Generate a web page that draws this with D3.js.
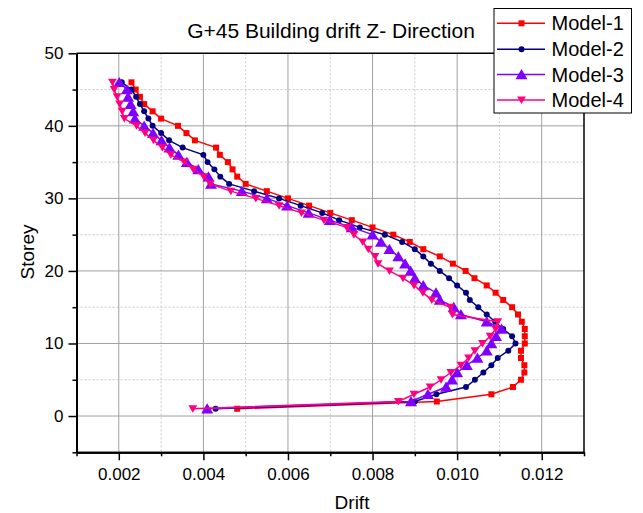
<!DOCTYPE html>
<html><head><meta charset="utf-8">
<script src="https://cdn.jsdelivr.net/npm/d3@7/dist/d3.min.js"></script>
<style>
html,body{margin:0;padding:0;background:#fff;}
svg{display:block;font-family:"Liberation Sans",Arial,sans-serif;}
</style></head>
<body>
<svg id="c" width="643" height="513"></svg>
<script>
const storeys = [1,2,3,4,5,6,7,8,9,10,11,12,13,14,15,16,17,18,19,20,21,22,23,24,25,26,27,28,29,30,31,32,33,34,35,36,37,38,39,40,41,42,43,44,45,46];
const model1 = [0.00480,0.00952,0.01081,0.01132,0.01151,0.01159,0.01159,0.01151,0.01151,0.01160,
0.01160,0.01160,0.01153,0.01144,0.01130,0.01109,0.01091,0.01070,0.01041,0.01020,
0.00990,0.00959,0.00920,0.00888,0.00849,0.00800,0.00751,0.00700,0.00650,0.00600,
0.00550,0.00500,0.00480,0.00469,0.00458,0.00439,0.00430,0.00380,0.00360,0.00340,
0.00300,0.00280,0.00260,0.00250,0.00240,0.00230];
const model2 = [0.00429,0.00900,0.00951,0.01021,0.01042,0.01062,0.01081,0.01096,0.01121,0.01138,
0.01130,0.01109,0.01090,0.01070,0.01050,0.01030,0.01021,0.01000,0.00981,0.00959,
0.00938,0.00920,0.00900,0.00870,0.00829,0.00770,0.00721,0.00681,0.00630,0.00579,
0.00520,0.00461,0.00440,0.00426,0.00410,0.00400,0.00351,0.00319,0.00300,0.00280,
0.00270,0.00260,0.00250,0.00241,0.00230,0.00207];
const model3 = [0.00409,0.00891,0.00931,0.00974,0.00988,0.01000,0.01023,0.01048,0.01070,0.01081,
0.01092,0.01105,0.01070,0.01009,0.00992,0.00959,0.00950,0.00920,0.00900,0.00890,
0.00877,0.00861,0.00840,0.00820,0.00800,0.00751,0.00699,0.00649,0.00598,0.00550,
0.00491,0.00418,0.00412,0.00388,0.00361,0.00341,0.00320,0.00301,0.00281,0.00260,
0.00238,0.00234,0.00228,0.00222,0.00219,0.00201];
const model4 = [0.00375,0.00861,0.00898,0.00936,0.00962,0.00985,0.01009,0.01027,0.01042,0.01060,
0.01078,0.01091,0.01096,0.00989,0.00984,0.00940,0.00919,0.00898,0.00872,0.00840,
0.00813,0.00806,0.00790,0.00777,0.00756,0.00739,0.00685,0.00632,0.00579,0.00524,
0.00465,0.00416,0.00401,0.00376,0.00355,0.00323,0.00303,0.00282,0.00262,0.00242,
0.00213,0.00208,0.00202,0.00196,0.00189,0.00185];
const seriesNames = ["Model-1","Model-2","Model-3","Model-4"];
const xMajorTicks = [0.002,0.004,0.006,0.008,0.010,0.012];
const xMinorTicks = [0.001,0.003,0.005,0.007,0.009,0.011,0.013];
const yMajorTicks = [0,10,20,30,40,50];
const yMinorTicks = [-5,5,15,25,35,45];

const W = 643, H = 513;
const L = 76.5, R = 584, T = 53.3, B = 452.3;
const svg = d3.select("#c");
svg.append("rect").attr("width",W).attr("height",H).attr("fill","#fff");

const x = d3.scaleLinear().domain([0.001,0.013]).range([L,R]);
const y = d3.scaleLinear().domain([-5,50]).range([B,T]);

// grid
const g = svg.append("g");
g.selectAll(".gxm").data(xMinorTicks.filter(v=>v>0.001&&v<0.013)).enter().append("line")
 .attr("x1",d=>x(d)).attr("x2",d=>x(d)).attr("y1",T).attr("y2",B)
 .attr("stroke","#c8c8c8").attr("stroke-width",1).attr("stroke-dasharray","2,2");
g.selectAll(".gym").data(yMinorTicks.filter(v=>v>-5&&v<50)).enter().append("line")
 .attr("y1",d=>y(d)).attr("y2",d=>y(d)).attr("x1",L).attr("x2",R)
 .attr("stroke","#c8c8c8").attr("stroke-width",1).attr("stroke-dasharray","2,2");
g.selectAll(".gx").data(xMajorTicks).enter().append("line")
 .attr("x1",d=>x(d)).attr("x2",d=>x(d)).attr("y1",T).attr("y2",B)
 .attr("stroke","#a0a0a0").attr("stroke-width",1);
g.selectAll(".gy").data(yMajorTicks.filter(v=>v<50)).enter().append("line")
 .attr("y1",d=>y(d)).attr("y2",d=>y(d)).attr("x1",L).attr("x2",R)
 .attr("stroke","#a0a0a0").attr("stroke-width",1);

// frame top/right
svg.append("line").attr("x1",L).attr("x2",R).attr("y1",T).attr("y2",T).attr("stroke","#000").attr("stroke-width",1.5);
svg.append("line").attr("x1",R).attr("x2",R).attr("y1",T).attr("y2",B).attr("stroke","#000").attr("stroke-width",1.5);

// axes
const fmtX = d3.format(".3f");
const xAxis = svg.append("g").attr("transform",`translate(0,${B})`)
 .call(d3.axisBottom(x).tickValues(xMajorTicks).tickFormat(fmtX).tickSize(8).tickPadding(7.5).tickSizeOuter(0));
const xAxisMinor = svg.append("g").attr("transform",`translate(0,${B})`)
 .call(d3.axisBottom(x).tickValues(xMinorTicks).tickFormat("").tickSize(4).tickSizeOuter(0));
const yAxis = svg.append("g").attr("transform",`translate(${L},0)`)
 .call(d3.axisLeft(y).tickValues(yMajorTicks).tickFormat(d3.format("d")).tickSize(8).tickPadding(5).tickSizeOuter(0));
const yAxisMinor = svg.append("g").attr("transform",`translate(${L},0)`)
 .call(d3.axisLeft(y).tickValues(yMinorTicks).tickFormat("").tickSize(4).tickSizeOuter(0));
[xAxis,xAxisMinor,yAxis,yAxisMinor].forEach(a=>{
  a.selectAll("path.domain").attr("stroke","#000").attr("stroke-width",2);
  a.selectAll(".tick line").attr("stroke","#000").attr("stroke-width",1.5);
  a.selectAll("text").attr("font-size",17).attr("fill","#000").attr("font-family","'Liberation Sans',Arial,sans-serif");
});

// series
const colors = ["#ff0000","#000080","#8000ff","#ff0080"];
const allData = [model1,model2,model3,model4];
function markerPath(i){
  if(i===0) return "M-3,-3H3V3H-3Z";
  if(i===1) return d3.symbol(d3.symbolCircle, 28)();
  if(i===2) return "M0,-5.4L6,4.8H-6Z";
  return "M0,4L4.4,-3.5H-4.4Z";
}
const line = d3.line().x(d=>x(d[0])).y(d=>y(d[1]));
allData.forEach((vals,i)=>{
  const pts = vals.map((v,k)=>[v,storeys[k]]);
  const sg = svg.append("g");
  sg.append("path").datum(pts).attr("d",line).attr("fill","none")
    .attr("stroke",colors[i]).attr("stroke-width",1.5);
  sg.selectAll("path.m").data(pts).enter().append("path").attr("class","m")
    .attr("transform",d=>`translate(${x(d[0])},${y(d[1])})`)
    .attr("d",markerPath(i)).attr("fill",colors[i]);
});

// title & axis titles
svg.append("text").attr("x",331).attr("y",38).attr("text-anchor","middle")
 .attr("font-size",21).text("G+45 Building drift Z- Direction");
svg.append("text").attr("x",352).attr("y",509).attr("text-anchor","middle")
 .attr("font-size",19).text("Drift");
svg.append("text").attr("transform","translate(34,252) rotate(-90)").attr("text-anchor","middle")
 .attr("font-size",19).text("Storey");

// legend
const lg = svg.append("g");
lg.append("rect").attr("x",494).attr("y",8.5).attr("width",137.5).attr("height",104.5)
 .attr("fill","#fff").attr("stroke","#000").attr("stroke-width",1);
const rowY = [23.3,49.3,74.5,100];
seriesNames.forEach((n,i)=>{
  const ry = rowY[i];
  lg.append("line").attr("x1",497).attr("x2",545).attr("y1",ry).attr("y2",ry)
    .attr("stroke",colors[i]).attr("stroke-width",1.5);
  lg.append("path").attr("transform",`translate(521.5,${ry})`).attr("d",markerPath(i)).attr("fill",colors[i]);
  lg.append("text").attr("x",551.5).attr("y",ry+7).attr("font-size",20).text(n);
});
</script>
</body></html>
